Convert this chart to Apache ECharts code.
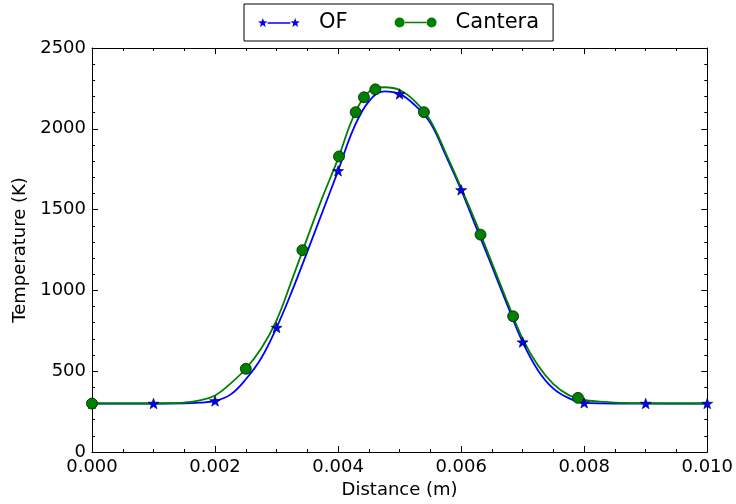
<!DOCTYPE html>
<html>
<head>
<meta charset="utf-8">
<script src="https://cdn.jsdelivr.net/npm/echarts@6/dist/echarts.min.js"></script>
<style>html,body{margin:0;padding:0;background:#fff}#c{width:736px;height:504px}</style>
</head>
<body>
<div id="c"></div>
<script>
// ---- data ----
const xTicks = [0, 0.002, 0.004, 0.006, 0.008, 0.010];
const yTicks = [0, 500, 1000, 1500, 2000, 2500];

// OF: continuous profile
const ofX = [0, 0.0005, 0.001, 0.00125, 0.0015, 0.00175, 0.002, 0.00225, 0.0025, 0.00275, 0.003, 0.00325, 0.0035, 0.00375, 0.004, 0.00425, 0.0045, 0.00475, 0.005, 0.00525, 0.0055, 0.00575, 0.006, 0.00625, 0.0065, 0.00675, 0.007, 0.00725, 0.0075, 0.00775, 0.008, 0.0085, 0.009, 0.0095, 0.010];
const ofT = [300, 300, 300, 300, 301, 306, 316, 355, 450, 580, 770, 995, 1240, 1490, 1740, 2000, 2170, 2232, 2216, 2145, 2035, 1835, 1622, 1385, 1150, 910, 680, 505, 392, 333, 304, 300, 300, 300, 300];
// OF: marker positions
const ofMarkX = [0, 0.001, 0.002, 0.003, 0.004, 0.005, 0.006, 0.007, 0.008, 0.009, 0.010];
const ofMarkT = [300, 300, 316, 770, 1740, 2216, 1622, 680, 304, 300, 300];

// Cantera: continuous profile
const caX = [0, 0.0005, 0.001, 0.00125, 0.0015, 0.00175, 0.002, 0.00225, 0.0025, 0.00275, 0.003, 0.00325, 0.0035, 0.00375, 0.004, 0.00425, 0.0045, 0.00475, 0.005, 0.00525, 0.0055, 0.00575, 0.006, 0.00625, 0.0065, 0.00675, 0.007, 0.00725, 0.0075, 0.00775, 0.008, 0.00825, 0.0085, 0.009, 0.0095, 0.010];
const caT = [300, 300, 300, 302, 306, 320, 350, 423, 515, 640, 815, 1065, 1325, 1580, 1815, 2075, 2228, 2257, 2240, 2170, 2050, 1850, 1635, 1410, 1170, 930, 700, 535, 420, 352, 322, 312, 306, 302, 300, 300];
// Cantera: marker (grid) positions
const caMarkX = [0, 0.0025, 0.00342, 0.004015, 0.004286, 0.00442, 0.004605, 0.005395, 0.006315, 0.006845, 0.0079];
const caMarkT = [300, 515, 1249, 1829, 2103, 2195, 2244, 2103, 1345, 840, 335];

const zip = (a, b) => a.map((v, i) => [v, b[i]]);

const FONT = 'DejaVu Sans';
const STAR = 'path://M0,-5L1.176,-1.618L4.755,-1.545L1.902,0.618L2.939,4.045L0,2L-2.939,4.045L-1.902,0.618L-4.755,-1.545L-1.176,-1.618Z';
function starAt(cx, cy) {
  const p = [[0,-5],[1.176,-1.618],[4.755,-1.545],[1.902,0.618],[2.939,4.045],[0,2],[-2.939,4.045],[-1.902,0.618],[-4.755,-1.545],[-1.176,-1.618]];
  return 'M' + p.map(q => (q[0] + cx).toFixed(3) + ',' + (q[1] + cy).toFixed(3)).join('L') + 'Z';
}
const OF_ICON = 'path://' + starAt(5, 5) + 'M9.8,4.3L32.2,4.3L32.2,5.7L9.8,5.7Z' + starAt(37, 5);
const CA_ICON = 'path://M0,5A5,5 0 1,0 10,5A5,5 0 1,0 0,5ZM10.2,4.3L31.8,4.3L31.8,5.7L10.2,5.7ZM32,5A5,5 0 1,0 42,5A5,5 0 1,0 32,5Z';

const baseAxis = (extra) => Object.assign({
  type: 'value',
  axisLine: { show: true, onZero: false, lineStyle: { color: '#000', width: 1 } },
  axisTick: { show: true, inside: true, length: 6, lineStyle: { color: '#000', width: 1 } },
  splitLine: { show: false },
  minorSplitLine: { show: false }
}, extra);

const xCommon = { min: xTicks[0], max: xTicks[xTicks.length - 1], interval: xTicks[1] - xTicks[0] };
const yCommon = { min: yTicks[0], max: yTicks[yTicks.length - 1], interval: yTicks[1] - yTicks[0] };
const xMinor = { show: true, splitNumber: 4, length: 3, lineStyle: { color: '#000', width: 1 } };
const yMinor = { show: true, splitNumber: 5, length: 3, lineStyle: { color: '#000', width: 1 } };

const chart = echarts.init(document.getElementById('c'), null, { renderer: 'canvas' });
chart.setOption({
  animation: false,
  backgroundColor: '#fff',
  textStyle: { fontFamily: FONT },
  grid: { left: 92, right: 28, top: 48, bottom: 49, containLabel: false },
  legend: {
    left: 244, top: 4,
    orient: 'horizontal',
    padding: [8, 14, 8, 14],
    itemGap: 47,
    itemWidth: 42, itemHeight: 10,
    backgroundColor: '#fff',
    borderColor: '#000', borderWidth: 1, borderRadius: 0,
    selectedMode: false,
    textStyle: { fontFamily: FONT, fontSize: 21, color: '#000', padding: [0, 0, 0, 14] },
    data: [
      { name: 'OF', icon: OF_ICON, itemStyle: { color: '#0000ff', borderWidth: 0 } },
      { name: 'Cantera', icon: CA_ICON, itemStyle: { color: '#008000', borderWidth: 0 } }
    ]
  },
  xAxis: [
    baseAxis(Object.assign({
      position: 'bottom',
      name: 'Distance (m)', nameLocation: 'middle', nameGap: 29,
      nameTextStyle: { fontFamily: FONT, fontSize: 18, color: '#000' },
      minorTick: xMinor,
      axisLabel: { show: true, margin: 6, fontFamily: FONT, fontSize: 18, color: '#000', formatter: v => v.toFixed(3) }
    }, xCommon)),
    baseAxis(Object.assign({
      position: 'top',
      minorTick: xMinor,
      axisLabel: { show: false }
    }, xCommon))
  ],
  yAxis: [
    baseAxis(Object.assign({
      position: 'left',
      name: 'Temperature (K)', nameLocation: 'middle', nameGap: 56,
      nameTextStyle: { fontFamily: FONT, fontSize: 18, color: '#000' },
      minorTick: yMinor,
      axisLabel: { show: true, margin: 6, fontFamily: FONT, fontSize: 18, color: '#000', formatter: v => String(v) }
    }, yCommon)),
    baseAxis(Object.assign({
      position: 'right',
      minorTick: yMinor,
      axisLabel: { show: false }
    }, yCommon))
  ],
  series: [
    {
      name: 'OF', type: 'line', xAxisIndex: 0, yAxisIndex: 0,
      data: zip(ofX, ofT), smooth: 0.4, showSymbol: false, symbol: 'none',
      lineStyle: { color: '#0000ff', width: 1.8 }, itemStyle: { color: '#0000ff' }, z: 2
    },
    {
      name: 'Cantera', type: 'line', xAxisIndex: 0, yAxisIndex: 0,
      data: zip(caX, caT), smooth: 0.4, showSymbol: false, symbol: 'none',
      lineStyle: { color: '#008000', width: 1.8 }, itemStyle: { color: '#008000' }, z: 3
    },
    {
      name: 'OF', type: 'scatter', xAxisIndex: 0, yAxisIndex: 0,
      data: zip(ofMarkX, ofMarkT), symbol: STAR, symbolSize: 11, symbolKeepAspect: true,
      itemStyle: { color: '#0000ff', borderColor: '#000033', borderWidth: 0.6, opacity: 1 }, z: 4
    },
    {
      name: 'Cantera', type: 'scatter', xAxisIndex: 0, yAxisIndex: 0,
      data: zip(caMarkX, caMarkT), symbol: 'circle', symbolSize: 11,
      itemStyle: { color: '#008000', borderColor: '#002000', borderWidth: 0.8, opacity: 1 }, z: 5
    }
  ]
});
</script>
</body>
</html>
